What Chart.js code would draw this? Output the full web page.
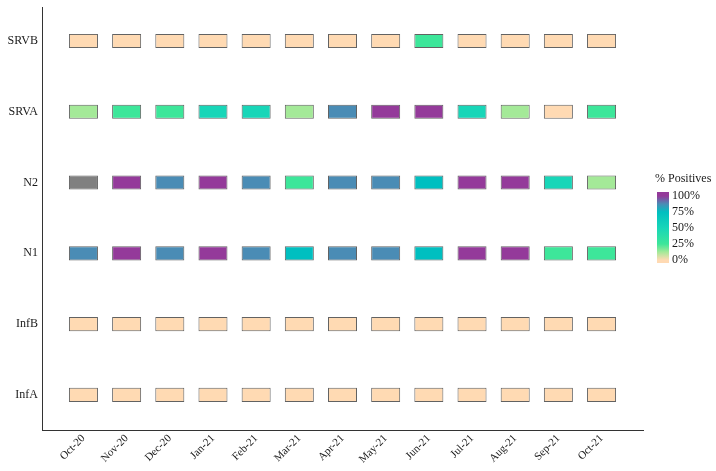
<!DOCTYPE html>
<html>
<head>
<meta charset="utf-8">
<script src="https://cdn.jsdelivr.net/npm/chart.js@4"></script>
<style>
  html, body { margin: 0; padding: 0; background: #fff; }
  #wrap { width: 716px; height: 471px; }
</style>
</head>
<body>
<div id="wrap"><canvas id="heat" width="716" height="471"></canvas></div>
<script>
// months along the bottom
const months = ['Oct-20', 'Nov-20', 'Dec-20', 'Jan-21', 'Feb-21', 'Mar-21', 'Apr-21',
  'May-21', 'Jun-21', 'Jul-21', 'Aug-21', 'Sep-21', 'Oct-21'];

// rows, bottom to top
const targets = ['InfA', 'InfB', 'N1', 'N2', 'SRVA', 'SRVB'];

// % positives per row (null = no data)
const infA = [0, 0, 0, 0, 0, 0, 0, 0, 0, 0, 0, 0, 0];
const infB = [0, 0, 0, 0, 0, 0, 0, 0, 0, 0, 0, 0, 0];
const n1 = [87.5, 100, 87.5, 100, 87.5, 75, 87.5, 87.5, 75, 100, 100, 25, 25];
const n2 = [null, 100, 87.5, 100, 87.5, 25, 87.5, 87.5, 75, 100, 100, 50, 12.5];
const srvA = [12.5, 25, 25, 50, 50, 12.5, 87.5, 100, 100, 50, 12.5, 0, 25];
const srvB = [0, 0, 0, 0, 0, 0, 0, 0, 25, 0, 0, 0, 0];

const legendTicks = [0, 25, 50, 75, 100];

const rows = [infA, infB, n1, n2, srvA, srvB];

// colour scale stops (value 0..1)
const stops = [
  [0, [255, 218, 179]],
  [0.125, [164, 233, 152]],
  [0.25, [61, 230, 154]],
  [0.5, [24, 214, 184]],
  [0.75, [0, 191, 192]],
  [0.875, [74, 140, 181]],
  [1, [148, 58, 154]]
];

function colourFor(v) {
  if (v === null) return '#808080';
  const t = v / 100;
  for (let i = 1; i < stops.length; i++) {
    if (t <= stops[i][0]) {
      const [t0, c0] = stops[i - 1];
      const [t1, c1] = stops[i];
      const f = (t - t0) / (t1 - t0);
      const c = c0.map((a, k) => Math.round(a + (c1[k] - a) * f));
      return `rgb(${c[0]},${c[1]},${c[2]})`;
    }
  }
  return 'rgb(148,58,154)';
}

const tileHalf = 0.1;
const serif = '"Liberation Serif", "Times New Roman", serif';

const datasets = rows.map((vals, r) => ({
  label: targets[r],
  data: vals.map((v, i) => ({ x: i, y: [r - tileHalf, r + tileHalf] })),
  backgroundColor: vals.map(colourFor),
  borderColor: 'rgba(70,70,70,0.85)',
  borderWidth: 1,
  borderSkipped: false,
  grouped: false,
  barPercentage: 0.84,
  categoryPercentage: 0.8
}));

// colour bar legend on the right
const colourBar = {
  id: 'colourBar',
  afterDraw(chart) {
    const ctx = chart.ctx;
    const x = 657, w = 12, top = 192, bottom = 263;
    const y0 = 260, y100 = 196;
    ctx.save();
    const g = ctx.createLinearGradient(0, y0, 0, y100);
    stops.forEach(([t, c]) => g.addColorStop(t, `rgb(${c[0]},${c[1]},${c[2]})`));
    ctx.fillStyle = g;
    ctx.fillRect(x, top, w, bottom - top);
    ctx.font = `12px ${serif}`;
    ctx.fillStyle = '#1a1a1a';
    ctx.textBaseline = 'middle';
    ctx.textAlign = 'left';
    ctx.fillText('% Positives', 655, 179);
    legendTicks.forEach(v => {
      const y = y0 + (y100 - y0) * v / 100;
      ctx.fillText(v + '%', 672, y);
    });
    ctx.restore();
  }
};

new Chart(document.getElementById('heat'), {
  type: 'bar',
  data: { datasets },
  options: {
    responsive: false,
    animation: false,
    layout: { padding: { top: 7, right: 73, left: 0, bottom: 0 } },
    plugins: { legend: { display: false }, tooltip: { enabled: false } },
    scales: {
      x: {
        type: 'linear',
        offset: false,
        min: -0.96,
        max: 12.96,
        afterBuildTicks: s => { s.ticks = months.map((m, i) => ({ value: i })); },
        afterFit: s => { s.height = 41; s.paddingLeft = 0; s.paddingRight = 0; },
        grid: { display: false, drawTicks: false, offset: false },
        border: { display: true, color: '#333', width: 1 },
        ticks: {
          callback: v => months[v],
          minRotation: 45,
          maxRotation: 45,
          autoSkip: false,
          padding: 2,
          color: '#1a1a1a',
          font: { family: serif, size: 11 }
        }
      },
      y: {
        type: 'linear',
        min: -0.496,
        max: 5.48,
        afterBuildTicks: s => { s.ticks = targets.map((t, i) => ({ value: i })); },
        afterFit: s => { s.width = 42; s.paddingTop = 0; s.paddingBottom = 0; },
        grid: { display: false, drawTicks: false },
        border: { display: true, color: '#333', width: 1 },
        ticks: {
          callback: v => targets[v],
          padding: 4,
          color: '#1a1a1a',
          font: { family: serif, size: 12 }
        }
      }
    }
  },
  plugins: [colourBar]
});
</script>
</body>
</html>
